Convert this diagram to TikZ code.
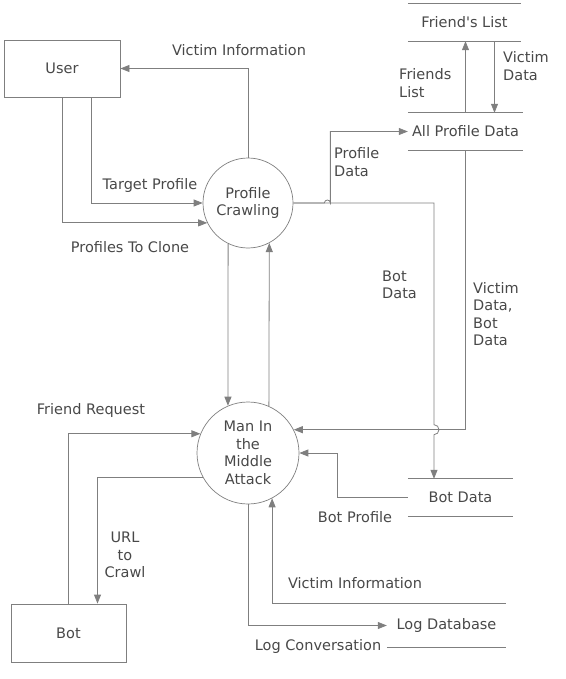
\documentclass[tikz,border=0pt]{standalone}
\usepackage{fontspec}
\setmainfont{DejaVu Sans}
\usetikzlibrary{arrows.meta}
\definecolor{trait}{HTML}{7F7F7F}
\definecolor{texte}{HTML}{484848}
\tikzset {entite/.style 2 args={draw=trait,line width=0.8pt,text=texte,
    minimum width=#1,minimum height=#2}}
\tikzset {processus/.style={circle,draw=trait,line width=0.7pt,text=texte,
    align=center,inner sep=0pt,minimum size=#1}}
\tikzset {stock/.style 2 args={text=texte,inner sep=0pt,minimum width=#1,minimum height=#2}}
\tikzset {ligne/.style={draw=trait,line width=0.8pt}}
\tikzset {flux/.style={ligne,-{Triangle[length=9pt,width=7pt]}}}
\tikzset {etiquette/.style={text=texte,align=left,inner sep=0pt}}

\begin{document}
\begin{tikzpicture}[x=1pt,y=-1pt,every node/.style={font=\fontsize{14.5}{17.5}\selectfont}]
  \useasboundingbox (0,0) rectangle (565,679);
  % entites
  \node[entite={116pt}{57pt}] (user) at (62,68.5) {User};
  \node[entite={115pt}{58pt}] (bot) at (68.5,633) {Bot};
  % processus
  \node[processus=90pt] (crawl) at (248,203) {Profile\\Crawling};
  \node[processus=102pt] (mitm) at (248,453) {Man In\\the\\Middle\\Attack};
  % stocks de donnees
  \node[stock={113pt}{37pt}] (friends) at (464.5,22.5) {Friend\textquotesingle s List};
  \node[stock={115pt}{37pt}] (allprof) at (465.5,131.5) {All Profile Data};
  \node[stock={105pt}{37pt}] (botdata) at (460.5,497.5) {Bot Data};
  \node[stock={119pt}{43pt}] (logdb) at (446.5,625.5) {Log Database};
  \foreach \s in {friends,allprof,botdata,logdb}
    \draw[ligne] (\s.north west) -- (\s.north east) (\s.south west) -- (\s.south east);
  \coordinate (bdin) at ([xshift=-26.5pt]botdata.north);
  \coordinate (saut) at (bdin |- mitm.27);  % croisement
  % flux
  \draw[flux] (crawl.north) |- (user.east);
  \draw[flux] ([xshift=29pt]user.south) |- (crawl.west);
  \draw[flux] (user.south) |- (crawl.206);
  \draw[flux] (crawl.east) -- ++(31,0) arc[start angle=180,end angle=0,radius=3pt]
    |- (allprof.west);
  \draw[flux] (crawl.east) -| ([yshift=5pt]saut)
    arc[start angle=90,end angle=-90,radius=5pt] -- (bdin);
  \draw[flux] (allprof.north) -- (friends.south -| allprof.north);
  \draw[flux] ([xshift=30pt]friends.south) -- ([xshift=30pt]friends.south |- allprof.north);
  \draw[flux] (allprof.south) |- (mitm.27);
  \draw[flux] (crawl.244) -- (mitm.113);
  \draw[flux] (mitm.66) -- (crawl.298);
  \draw[flux] (bot.north) |- (mitm.158);
  \draw[flux] (mitm.208) -| ([xshift=29pt]bot.north);
  \draw[flux] (botdata.west) -- ++(-70,0) |- (mitm.east);
  \draw[flux] (logdb.north west) -| (mitm.298);
  \draw[flux] (mitm.south) |- (logdb.west);
  % etiquettes
  \node[etiquette] (l1) at (239,50) {Victim Information};
  \node[etiquette] (l2) at (150,185) {Target Profile};
  \node[etiquette] (l3) at (130,247) {Profiles To Clone};
  \node[etiquette,anchor=west] (l4) at (399,83) {Friends\\List};
  \node[etiquette,anchor=west] (l5) at (503,66) {Victim\\Data};
  \node[etiquette,anchor=west] (l6) at (334,162) {Profile\\Data};
  \node[etiquette,anchor=west] (l7) at (382,285) {Bot\\Data};
  \node[etiquette,anchor=west] (l8) at (473,314) {Victim\\Data,\\Bot\\Data};
  \node[etiquette] (l9) at (91,410) {Friend Request};
  \node[etiquette,align=center] (l10) at (125,555) {URL\\to\\Crawl};
  \node[etiquette] (l11) at (355,517) {Bot Profile};
  \node[etiquette] (l12) at (355,583) {Victim Information};
  \node[etiquette] (l13) at (318,646) {Log Conversation};
\end{tikzpicture}
\end{document}
